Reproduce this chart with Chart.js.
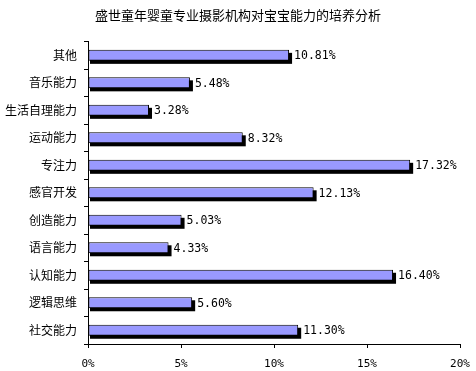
<!DOCTYPE html>
<html><head><meta charset="utf-8">
<script src="https://cdn.jsdelivr.net/npm/chart.js@4/dist/chart.umd.min.js"></script>
<style>html,body{margin:0;padding:0;background:#fff}#wrap{width:476px;height:371px}</style>
</head><body><div id="wrap"><canvas id="c" width="476" height="371"></canvas></div>
<script>
const titleText = '盛世童年婴童专业摄影机构对宝宝能力的培养分析';
const categories = ['其他','音乐能力','生活自理能力','运动能力','专注力','感官开发','创造能力','语言能力','认知能力','逻辑思维','社交能力'];
const values = [10.81, 5.48, 3.28, 8.32, 17.32, 12.13, 5.03, 4.33, 16.40, 5.60, 11.30];
const xTicks = [0, 5, 10, 15, 20];

const cjk = '"Noto Sans CJK SC", sans-serif';
const mono = '"DejaVu Sans Mono", monospace';

const shadowPlugin = {
  id: 'shadow',
  beforeDatasetsDraw(chart) {
    const ctx = chart.ctx;
    const meta = chart.getDatasetMeta(0);
    ctx.save();
    ctx.fillStyle = '#000';
    meta.data.forEach(el => {
      const p = el.getProps(['x', 'y', 'base', 'height'], true);
      const left = Math.min(p.x, p.base), right = Math.max(p.x, p.base);
      const top = p.y - p.height / 2;
      ctx.fillRect(left + 1.5, top + 3, right - left + 1.5, p.height);
    });
    ctx.restore();
  }
};
const labelPlugin = {
  id: 'vlabels',
  afterDatasetsDraw(chart) {
    const ctx = chart.ctx;
    const meta = chart.getDatasetMeta(0);
    ctx.save();
    ctx.font = '11.5px ' + mono;
    ctx.fillStyle = '#000';
    ctx.textBaseline = 'middle';
    ctx.textAlign = 'left';
    meta.data.forEach((el, i) => {
      ctx.fillText(values[i].toFixed(2) + '%', el.x + 5, el.y + 1);
    });
    ctx.restore();
  }
};

new Chart(document.getElementById('c'), {
  type: 'bar',
  data: {
    labels: categories,
    datasets: [{
      data: values,
      backgroundColor: '#9999FF',
      borderColor: '#000',
      borderWidth: 1,
      borderSkipped: false,
      barPercentage: 0.4,
      categoryPercentage: 1
    }]
  },
  options: {
    indexAxis: 'y',
    responsive: false,
    animation: false,
    devicePixelRatio: 1,
    layout: { padding: { left: 0, right: 0, top: 0, bottom: 0 } },
    plugins: {
      legend: { display: false },
      tooltip: { enabled: false },
      title: {
        display: true, text: titleText, color: '#000',
        font: { family: cjk, size: 13, weight: 'normal' },
        padding: { top: 7, bottom: 19 }
      }
    },
    scales: {
      x: {
        min: 0, max: 20,
        afterBuildTicks(s) { s.ticks = xTicks.map(v => ({ value: v })); },
        afterFit(s) { s.height = 27; s.paddingLeft = 0; s.paddingRight = 16; },
        ticks: { callback: v => v + '%', color: '#000', font: { family: mono, size: 11 }, padding: 10, maxRotation: 0 },
        grid: { drawOnChartArea: false, drawTicks: true, tickLength: 4, color: '#000' },
        border: { color: '#000', width: 1 }
      },
      y: {
        afterFit(s) { s.width = 88; },
        ticks: { color: '#000', font: { family: cjk, size: 12 }, padding: 7 },
        grid: { offset: true, drawOnChartArea: false, drawTicks: true, tickLength: 4, color: '#000' },
        border: { color: '#000', width: 1 }
      }
    }
  },
  plugins: [shadowPlugin, labelPlugin]
});
</script></body></html>
